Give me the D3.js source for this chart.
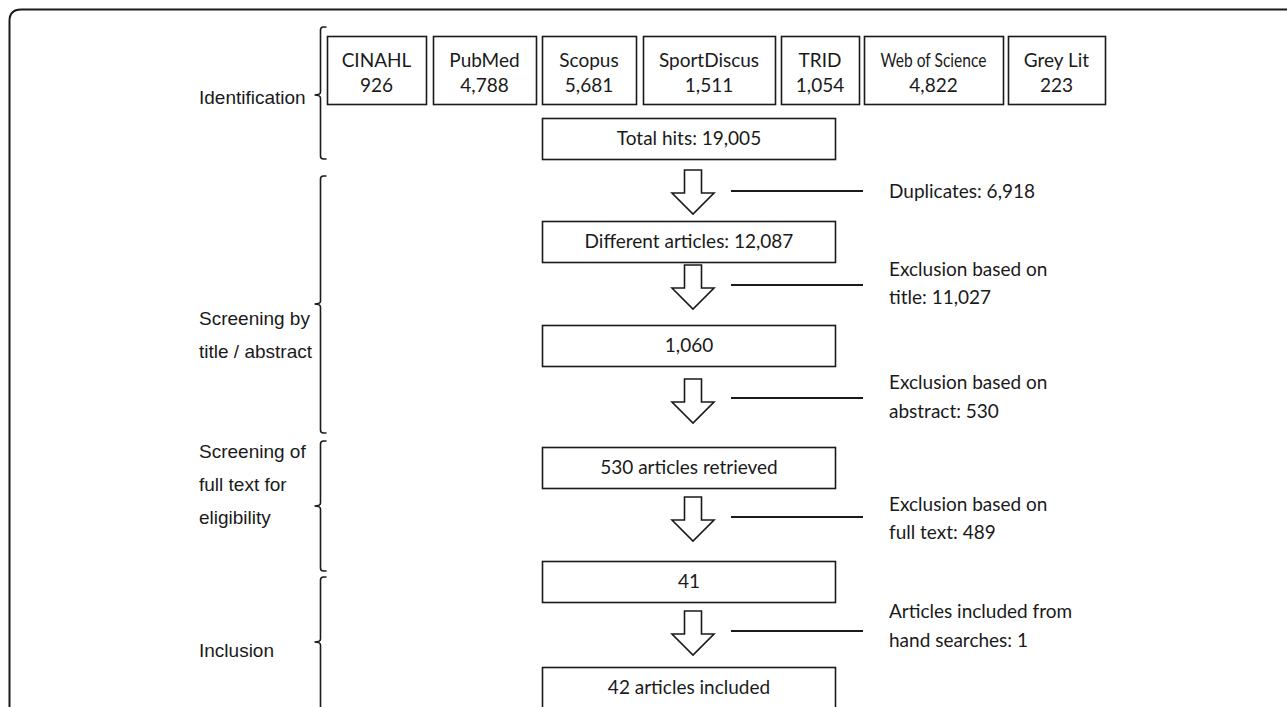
<!DOCTYPE html>
<html>
<head>
<meta charset="utf-8">
<script src="https://cdn.jsdelivr.net/npm/d3@7"></script>
<style>
  html, body { margin: 0; padding: 0; background: #fff; }
  svg { display: block; }
</style>
</head>
<body>
<script>
// database hits
const databases = ["CINAHL", "PubMed", "Scopus", "SportDiscus", "TRID", "Web of Science", "Grey Lit"]
const hits = [926, 4788, 5681, 1511, 1054, 4822, 223]

// main flow boxes
const steps = ["Total hits: 19,005", "Different articles: 12,087", "1,060", "530 articles retrieved", "41", "42 articles included"]

// notes beside each arrow
const notes = [
  ["Duplicates: 6,918"],
  ["Exclusion based on", "title: 11,027"],
  ["Exclusion based on", "abstract: 530"],
  ["Exclusion based on", "full text: 489"],
  ["Articles included from", "hand searches: 1"]
]

// stage brackets on the left
const stages = [
  ["Identification"],
  ["Screening by", "title / abstract"],
  ["Screening of", "full text for", "eligibility"],
  ["Inclusion"]
]

// ---- layout (pixels) ----
const width = 1287, height = 707
const dbX = [327, 433, 542, 643, 781, 864, 1008]
const dbX2 = [426, 536, 636, 775, 859, 1003, 1105]
const dbTop = 36, dbBottom = 104
const boxTops = [118, 221, 325, 447, 561, 667]
const boxH = 41
const boxLeft = 542.5, boxRight = 835.5
const arrowTops = [170, 265, 379, 497, 611]
const arrowCx = 693
const noteLineY = [191, 285, 398, 517, 631]
const noteY = [[191], [269, 297], [382, 411], [504, 532], [611, 640]]
const stageSpans = [[27, 159, 95], [176, 433, 304], [441, 571, 506], [577, 720, 642]]
const stageTextY = [[97], [318, 351], [451, 484, 517], [650]]

const ink = "#1a1a1a"
const boxFont = "Lato, 'Open Sans', sans-serif"
const sideFont = "'Liberation Sans', Arial, sans-serif"
const boxSize = "19px"
const sideSize = "19px"

const svg = d3.select("body").append("svg")
  .attr("width", width)
  .attr("height", height)

// outer frame, rounded top-left corner
svg.append("path")
  .attr("d", `M9.5,${height + 5} V21 Q9.5,9.5 21,9.5 H${width + 5}`)
  .attr("fill", "none")
  .attr("stroke", ink)
  .attr("stroke-width", 2)

// database boxes
const db = svg.append("g").selectAll("g")
  .data(databases.map((d, i) => ({name: d, n: hits[i], i})))
  .join("g")

db.append("rect")
  .attr("x", d => dbX[d.i] + 0.5)
  .attr("y", dbTop + 0.5)
  .attr("width", d => dbX2[d.i] - dbX[d.i])
  .attr("height", dbBottom - dbTop)
  .attr("fill", "#fff")
  .attr("stroke", ink)
  .attr("stroke-width", 1.6)

const fmt = d3.format(",")
db.append("text")
  .attr("x", d => (dbX[d.i] + dbX2[d.i]) / 2)
  .attr("y", 60)
  .attr("dy", "0.35em")
  .attr("text-anchor", "middle")
  .style("font", `${boxSize} ${boxFont}`)
  .attr("fill", ink)
  .each(function(d) {
    // the source squeezes "Web of Science" into its box
    if (d.name === "Web of Science") {
      d3.select(this).attr("textLength", 106).attr("lengthAdjust", "spacingAndGlyphs")
    }
  })
  .text(d => d.name)

db.append("text")
  .attr("x", d => (dbX[d.i] + dbX2[d.i]) / 2)
  .attr("y", 85)
  .attr("dy", "0.35em")
  .attr("text-anchor", "middle")
  .style("font", `${boxSize} ${boxFont}`)
  .attr("fill", ink)
  .text(d => fmt(d.n))

// main flow boxes
const flow = svg.append("g").selectAll("g")
  .data(steps)
  .join("g")

flow.append("rect")
  .attr("x", boxLeft)
  .attr("y", (d, i) => boxTops[i] + 0.5)
  .attr("width", boxRight - boxLeft)
  .attr("height", boxH)
  .attr("fill", "#fff")
  .attr("stroke", ink)
  .attr("stroke-width", 1.6)

flow.append("text")
  .attr("x", (boxLeft + boxRight) / 2)
  .attr("y", (d, i) => boxTops[i] + boxH / 2)
  .attr("dy", "0.35em")
  .attr("text-anchor", "middle")
  .style("font", `${boxSize} ${boxFont}`)
  .attr("fill", ink)
  .text(d => d)

// block arrows
const arrowPath = top => {
  const p = d3.path()
  const sw = 8.5, hw = 21, shaft = 23, head = 21
  p.moveTo(arrowCx - sw, top)
  p.lineTo(arrowCx + sw, top)
  p.lineTo(arrowCx + sw, top + shaft)
  p.lineTo(arrowCx + hw, top + shaft)
  p.lineTo(arrowCx, top + shaft + head)
  p.lineTo(arrowCx - hw, top + shaft)
  p.lineTo(arrowCx - sw, top + shaft)
  p.closePath()
  return p.toString()
}

svg.append("g").selectAll("path")
  .data(arrowTops)
  .join("path")
  .attr("d", d => arrowPath(d))
  .attr("fill", "#fff")
  .attr("stroke", ink)
  .attr("stroke-width", 1.6)
  .attr("stroke-linejoin", "miter")

// note connector lines + text
svg.append("g").selectAll("line")
  .data(noteLineY)
  .join("line")
  .attr("x1", 731)
  .attr("x2", 863)
  .attr("y1", d => d)
  .attr("y2", d => d)
  .attr("stroke", ink)
  .attr("stroke-width", 2)

svg.append("g").selectAll("text")
  .data(notes.flatMap((lines, i) => lines.map((t, j) => ({t, y: noteY[i][j]}))))
  .join("text")
  .attr("x", 889)
  .attr("y", d => d.y)
  .attr("dy", "0.35em")
  .style("font", `${boxSize} ${boxFont}`)
  .attr("fill", ink)
  .text(d => d.t)

// stage brackets
const bracket = ([y0, y1, ym]) => {
  const x = 320.5, hook = 6, r = 3
  const p = d3.path()
  p.moveTo(x + hook, y0)
  p.lineTo(x + r, y0)
  p.quadraticCurveTo(x, y0, x, y0 + r)
  p.lineTo(x, ym - r)
  p.quadraticCurveTo(x, ym, x - hook, ym)
  p.moveTo(x - hook, ym)
  p.quadraticCurveTo(x, ym, x, ym + r)
  p.lineTo(x, y1 - r)
  p.quadraticCurveTo(x, y1, x + r, y1)
  p.lineTo(x + hook, y1)
  return p.toString()
}

svg.append("g").selectAll("path")
  .data(stageSpans)
  .join("path")
  .attr("d", d => bracket(d))
  .attr("fill", "none")
  .attr("stroke", ink)
  .attr("stroke-width", 1.6)

svg.append("g").selectAll("text")
  .data(stages.flatMap((lines, i) => lines.map((t, j) => ({t, y: stageTextY[i][j]}))))
  .join("text")
  .attr("x", 199)
  .attr("y", d => d.y)
  .attr("dy", "0.35em")
  .style("font", `${sideSize} ${sideFont}`)
  .attr("fill", ink)
  .text(d => d.t)
</script>
</body>
</html>
